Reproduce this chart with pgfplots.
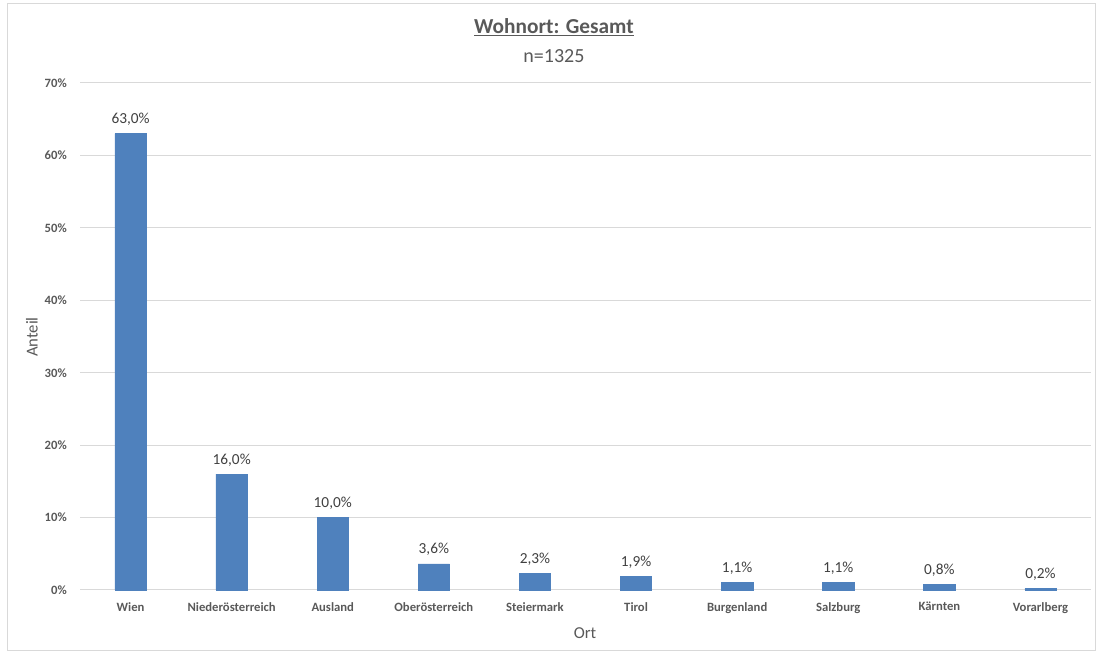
\documentclass[border=0pt]{standalone}
\usepackage{fontspec}
\setmainfont{Carlito}
\usepackage{pgfplots}
\pgfplotsset{compat=1.18}
\definecolor{barblue}{RGB}{79,129,189}
\definecolor{txtgray}{RGB}{89,89,89}
\definecolor{lblgray}{RGB}{64,64,64}
\definecolor{gridgray}{RGB}{217,217,217}
\definecolor{framegray}{RGB}{217,217,217}
\begin{document}
\begin{tikzpicture}
\useasboundingbox (0pt,0pt) rectangle (824.25pt,491.25pt);
\draw[framegray, line width=0.75pt] (5.25pt,3pt) rectangle (821.25pt,488.25pt);
\begin{axis}[
  at={(60pt,48.75pt)}, anchor=south west,
  scale only axis,
  width=758.25pt, height=380.25pt,
  ybar, bar width=0.31,
  xmin=-0.5, xmax=9.5, ymin=0, ymax=70,
  xtick=data,
  xticklabels={Wien,Niederösterreich,Ausland,Oberösterreich,Steiermark,Tirol,Burgenland,Salzburg,Kärnten,Vorarlberg},
  ytick={0,10,20,30,40,50,60,70},
  yticklabels={0\%,10\%,20\%,30\%,40\%,50\%,60\%,70\%},
  major tick length=0pt,
  axis line style={draw=none},
  ymajorgrids, grid style={gridgray, line width=0.75pt},
  xticklabel style={font=\fontsize{9.5}{11}\selectfont\bfseries, text=txtgray, inner sep=0pt, anchor=north, yshift=-9pt},
  yticklabel style={font=\fontsize{9.5}{11}\selectfont\bfseries, text=txtgray, inner sep=0pt, anchor=east, xshift=-9.75pt},
  nodes near coords={\pgfmathprintnumber[fixed,fixed zerofill,precision=1,use comma,assume math mode=true]{\pgfplotspointmeta}\%},
  nodes near coords style={font=\fontsize{11.5}{13}\selectfont, text=lblgray, anchor=base, inner sep=0pt, yshift=7.5pt},
  clip=false,
]
\addplot[fill=barblue, draw=barblue] coordinates {
(0,63.0) (1,16.0) (2,10.0) (3,3.6) (4,2.3) (5,1.9) (6,1.1) (7,1.1) (8,0.8) (9,0.2)};
\end{axis}
\node[text=txtgray, font=\fontsize{16}{19}\selectfont\bfseries] at (415.5pt,471pt) {\underline{Wohnort: Gesamt}};
\node[text=txtgray, font=\fontsize{15}{18}\selectfont] at (415.5pt,449.25pt) {n=1325};
\node[text=txtgray, font=\fontsize{12.5}{15}\selectfont, rotate=90] at (24pt,238.5pt) {Anteil};
\node[text=txtgray, font=\fontsize{12.5}{15}\selectfont] at (438.75pt,16.5pt) {Ort};
\end{tikzpicture}
\end{document}
